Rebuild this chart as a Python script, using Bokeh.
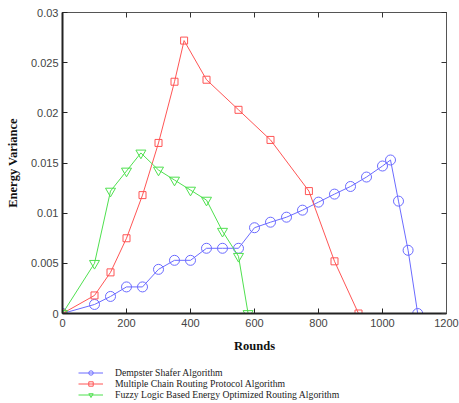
from bokeh.plotting import figure
from bokeh.layouts import column
from bokeh.models import (Range1d, FixedTicker, CustomJSTickFormatter, LinearAxis,
                          Legend, LegendItem)
from bokeh.embed import file_html
from bokeh.resources import INLINE

# Rounds and energy variance for each routing algorithm
ds_rounds = [0, 100, 150, 200, 250, 300, 350, 400, 450, 500, 550, 600, 650, 700,
             750, 800, 850, 900, 950, 1000, 1025, 1050, 1080, 1110]
ds_var = [0, 0.0009, 0.0017, 0.00265, 0.00265, 0.0044, 0.0053, 0.0053, 0.0065,
          0.0065, 0.0065, 0.00855, 0.0091, 0.0096, 0.0103, 0.0111, 0.0119,
          0.01266, 0.0136, 0.0147, 0.0153, 0.0112, 0.0063, 0]

mc_rounds = [0, 100, 150, 200, 250, 300, 350, 380, 450, 550, 650, 770, 850, 925]
mc_var = [0, 0.0018, 0.0041, 0.0075, 0.0118, 0.0170, 0.0231, 0.0272, 0.0233,
          0.0203, 0.0173, 0.0122, 0.0052, 0]

fl_rounds = [0, 100, 150, 200, 245, 300, 350, 400, 450, 500, 550, 580]
fl_var = [0, 0.0050, 0.0122, 0.0142, 0.0160, 0.0143, 0.0133, 0.0123, 0.0113,
          0.0082, 0.0057, 0]

x_ticks = [0, 200, 400, 600, 800, 1000, 1200]
y_ticks = [0, 0.005, 0.01, 0.015, 0.02, 0.025, 0.03]

names = ["Dempster Shafer Algorithm",
         "Multiple Chain Routing Protocol Algorithm",
         "Fuzzy Logic Based Energy Optimized Routing Algorithm"]

BLUE = "#6b6bff"
RED = "#ff5555"
GREEN = "#4fe04f"

styles = [
    (ds_rounds, ds_var, BLUE, "circle", 10),
    (mc_rounds, mc_var, RED, "square", 7),
    (fl_rounds, fl_var, GREEN, "inverted_triangle", 10),
]

# ---- main chart ----
p = figure(width=459, height=360, output_backend="svg", toolbar_location=None,
           x_range=Range1d(0, 1200), y_range=Range1d(0, 0.03),
           min_border_left=62, min_border_right=13, min_border_top=12,
           min_border_bottom=47)
p.grid.visible = False
p.outline_line_color = "#555555"
p.outline_line_width = 1

for ax in (p.xaxis[0], p.yaxis[0]):
    ax.major_tick_in = 5
    ax.major_tick_out = 0
    ax.minor_tick_line_color = None
    ax.axis_line_width = 2
    ax.axis_line_color = "#222222"
    ax.major_tick_line_color = "#222222"
    ax.major_label_text_font = "Liberation Sans"
    ax.major_label_text_font_size = "11px"
    ax.major_label_text_color = "#444444"
    ax.axis_label_text_font = "Liberation Serif"
    ax.axis_label_text_font_style = "bold"
    ax.axis_label_text_font_size = "12.5px"
    ax.axis_label_text_color = "#111111"

p.xaxis[0].ticker = FixedTicker(ticks=x_ticks)
p.yaxis[0].ticker = FixedTicker(ticks=y_ticks)
p.yaxis[0].formatter = CustomJSTickFormatter(
    code="return tick.toFixed(3).replace(/0+$/, '').replace(/\\.$/, '');")
p.xaxis[0].axis_label = "Rounds"
p.yaxis[0].axis_label = "Energy Variance"
p.xaxis[0].major_label_standoff = 5
p.xaxis[0].axis_label_standoff = 9
p.yaxis[0].major_label_standoff = 4
p.yaxis[0].axis_label_standoff = 8

# tick marks on the top and right edges of the box (no labels)
blank = CustomJSTickFormatter(code="return '';")
for side, ticks in (("above", x_ticks), ("right", y_ticks)):
    ax = LinearAxis(ticker=FixedTicker(ticks=ticks), formatter=blank,
                    major_tick_in=5, major_tick_out=0, minor_tick_line_color=None,
                    axis_line_color="#555555", major_tick_line_color="#333333",
                    major_label_standoff=0)
    p.add_layout(ax, side)

for xs, ys, color, marker, size in styles:
    p.line(xs, ys, line_color=color, line_width=1)
    p.scatter(xs, ys, marker=marker, size=size, fill_color=None,
              line_color=color, line_width=1)

# ---- legend strip under the chart ----
lf = figure(width=459, height=43, output_backend="svg", toolbar_location=None,
            x_range=Range1d(0, 1200), y_range=Range1d(0, 0.03),
            x_axis_type=None, y_axis_type=None, min_border=0)
lf.grid.visible = False
lf.outline_line_color = None

items = []
for (xs, ys, color, marker, size), name in zip(styles, names):
    ln = lf.line(xs, ys, line_color=color, line_width=1, visible=False)
    mk = lf.scatter(xs, ys, marker=marker, size=size, fill_color=None,
                    line_color=color, line_width=1, visible=False)
    items.append(LegendItem(label=name, renderers=[ln, mk]))

legend = Legend(items=items, location=(16, 3), orientation="vertical",
                label_text_font="Liberation Serif", label_text_font_size="9.7px",
                label_text_color="#222222", label_height=11, glyph_height=11,
                glyph_width=25, label_standoff=12, spacing=0, padding=2,
                margin=0, border_line_color=None, background_fill_alpha=0)
lf.add_layout(legend, "center")

page = column(p, lf, spacing=0)
open("out.html", "w").write(file_html(page, INLINE))
